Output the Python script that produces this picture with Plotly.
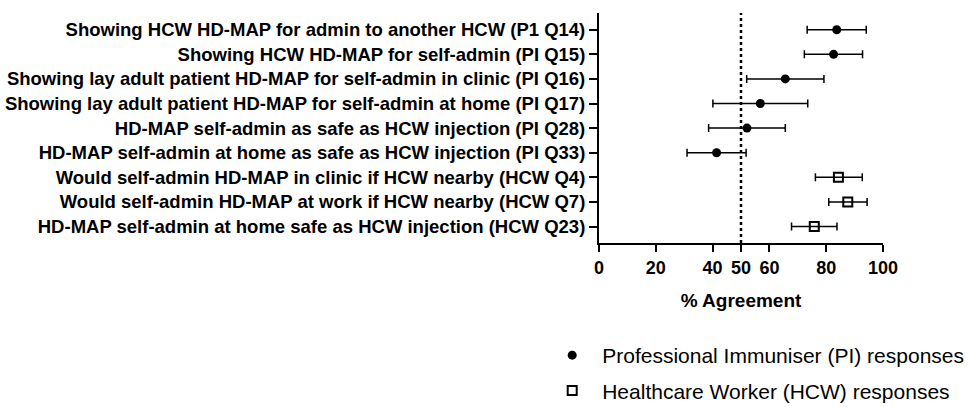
import plotly.graph_objects as go

categories = [
    "Showing HCW HD-MAP for admin to another HCW (P1 Q14)",
    "Showing HCW HD-MAP for self-admin (PI Q15)",
    "Showing lay adult patient HD-MAP for self-admin in clinic (PI Q16)",
    "Showing lay adult patient HD-MAP for self-admin at home (PI Q17)",
    "HD-MAP self-admin as safe as HCW injection (PI Q28)",
    "HD-MAP self-admin at home as safe as HCW injection (PI Q33)",
    "Would self-admin HD-MAP in clinic if HCW nearby (HCW Q4)",
    "Would self-admin HD-MAP at work if HCW nearby (HCW Q7)",
    "HD-MAP self-admin at home safe as HCW injection (HCW Q23)",
]

pi_categories = categories[:6]
pi_values = [83.7, 82.6, 65.6, 56.8, 52.1, 41.4]
pi_low = [73.3, 72.3, 52.0, 40.1, 38.6, 31.0]
pi_high = [94.1, 92.8, 79.2, 73.5, 65.6, 51.8]

hcw_categories = categories[6:]
hcw_values = [84.3, 87.6, 75.8]
hcw_low = [76.2, 80.9, 67.8]
hcw_high = [92.7, 94.4, 83.8]

x_ticks = [0, 20, 40, 50, 60, 80, 100]
reference_value = 50

FONT = "Liberation Sans, Arial, Helvetica, sans-serif"

fig = go.Figure()

fig.add_trace(go.Scatter(
    x=pi_values, y=pi_categories, mode="markers",
    name="Professional Immuniser (PI) responses",
    legendgroup="pi",
    marker=dict(symbol="circle", size=9, color="black"),
    error_x=dict(type="data", symmetric=False,
                 array=[h - v for h, v in zip(pi_high, pi_values)],
                 arrayminus=[v - l for l, v in zip(pi_low, pi_values)],
                 color="black", thickness=1.5, width=4),
))

fig.add_trace(go.Scatter(
    x=hcw_values, y=hcw_categories, mode="markers",
    name="Healthcare Worker (HCW) responses",
    legendgroup="hcw",
    marker=dict(symbol="square-open", size=9, color="black", line=dict(width=2, color="black")),
    error_x=dict(type="data", symmetric=False,
                 array=[h - v for h, v in zip(hcw_high, hcw_values)],
                 arrayminus=[v - l for l, v in zip(hcw_low, hcw_values)],
                 color="black", thickness=1.5, width=4),
))

fig.add_shape(type="line", xref="x", yref="paper",
              x0=reference_value, x1=reference_value, y0=0, y1=1,
              line=dict(color="black", width=2.5, dash="dot"))

fig.update_layout(
    width=969, height=407,
    margin=dict(l=599, r=86, t=13, b=164, autoexpand=False),
    paper_bgcolor="white", plot_bgcolor="white",
    font=dict(family=FONT, color="black"),
    xaxis=dict(
        range=[0, 100], tickmode="array", tickvals=x_ticks,
        ticktext=[str(t) for t in x_ticks],
        showline=True, linecolor="black", linewidth=2,
        ticks="outside", ticklen=7, tickwidth=2, tickcolor="black",
        showgrid=False, zeroline=False,
        tickfont=dict(family=FONT, size=18, color="black", weight="bold"),
        title=dict(text="<b>% Agreement</b>", font=dict(family=FONT, size=19, color="black"), standoff=17),
    ),
    yaxis=dict(
        type="category", categoryorder="array", categoryarray=categories,
        range=[8.67, -0.68],
        showline=True, linecolor="black", linewidth=2,
        ticks="outside", ticklen=8, tickwidth=2, tickcolor="black",
        showgrid=False, zeroline=False,
        tickfont=dict(family=FONT, size=18.5, color="black", weight="bold"),
    ),
    showlegend=True,
    legend=dict(
        x=-0.2, xanchor="left", y=-0.40, yanchor="top",
        font=dict(family=FONT, size=21, color="black"),
        traceorder="grouped", tracegroupgap=5,
        bgcolor="rgba(0,0,0,0)", itemwidth=50,
    ),
)

fig.write_html("out.html", config={"displayModeBar": False},
               post_script="document.body.style.margin='0';")
